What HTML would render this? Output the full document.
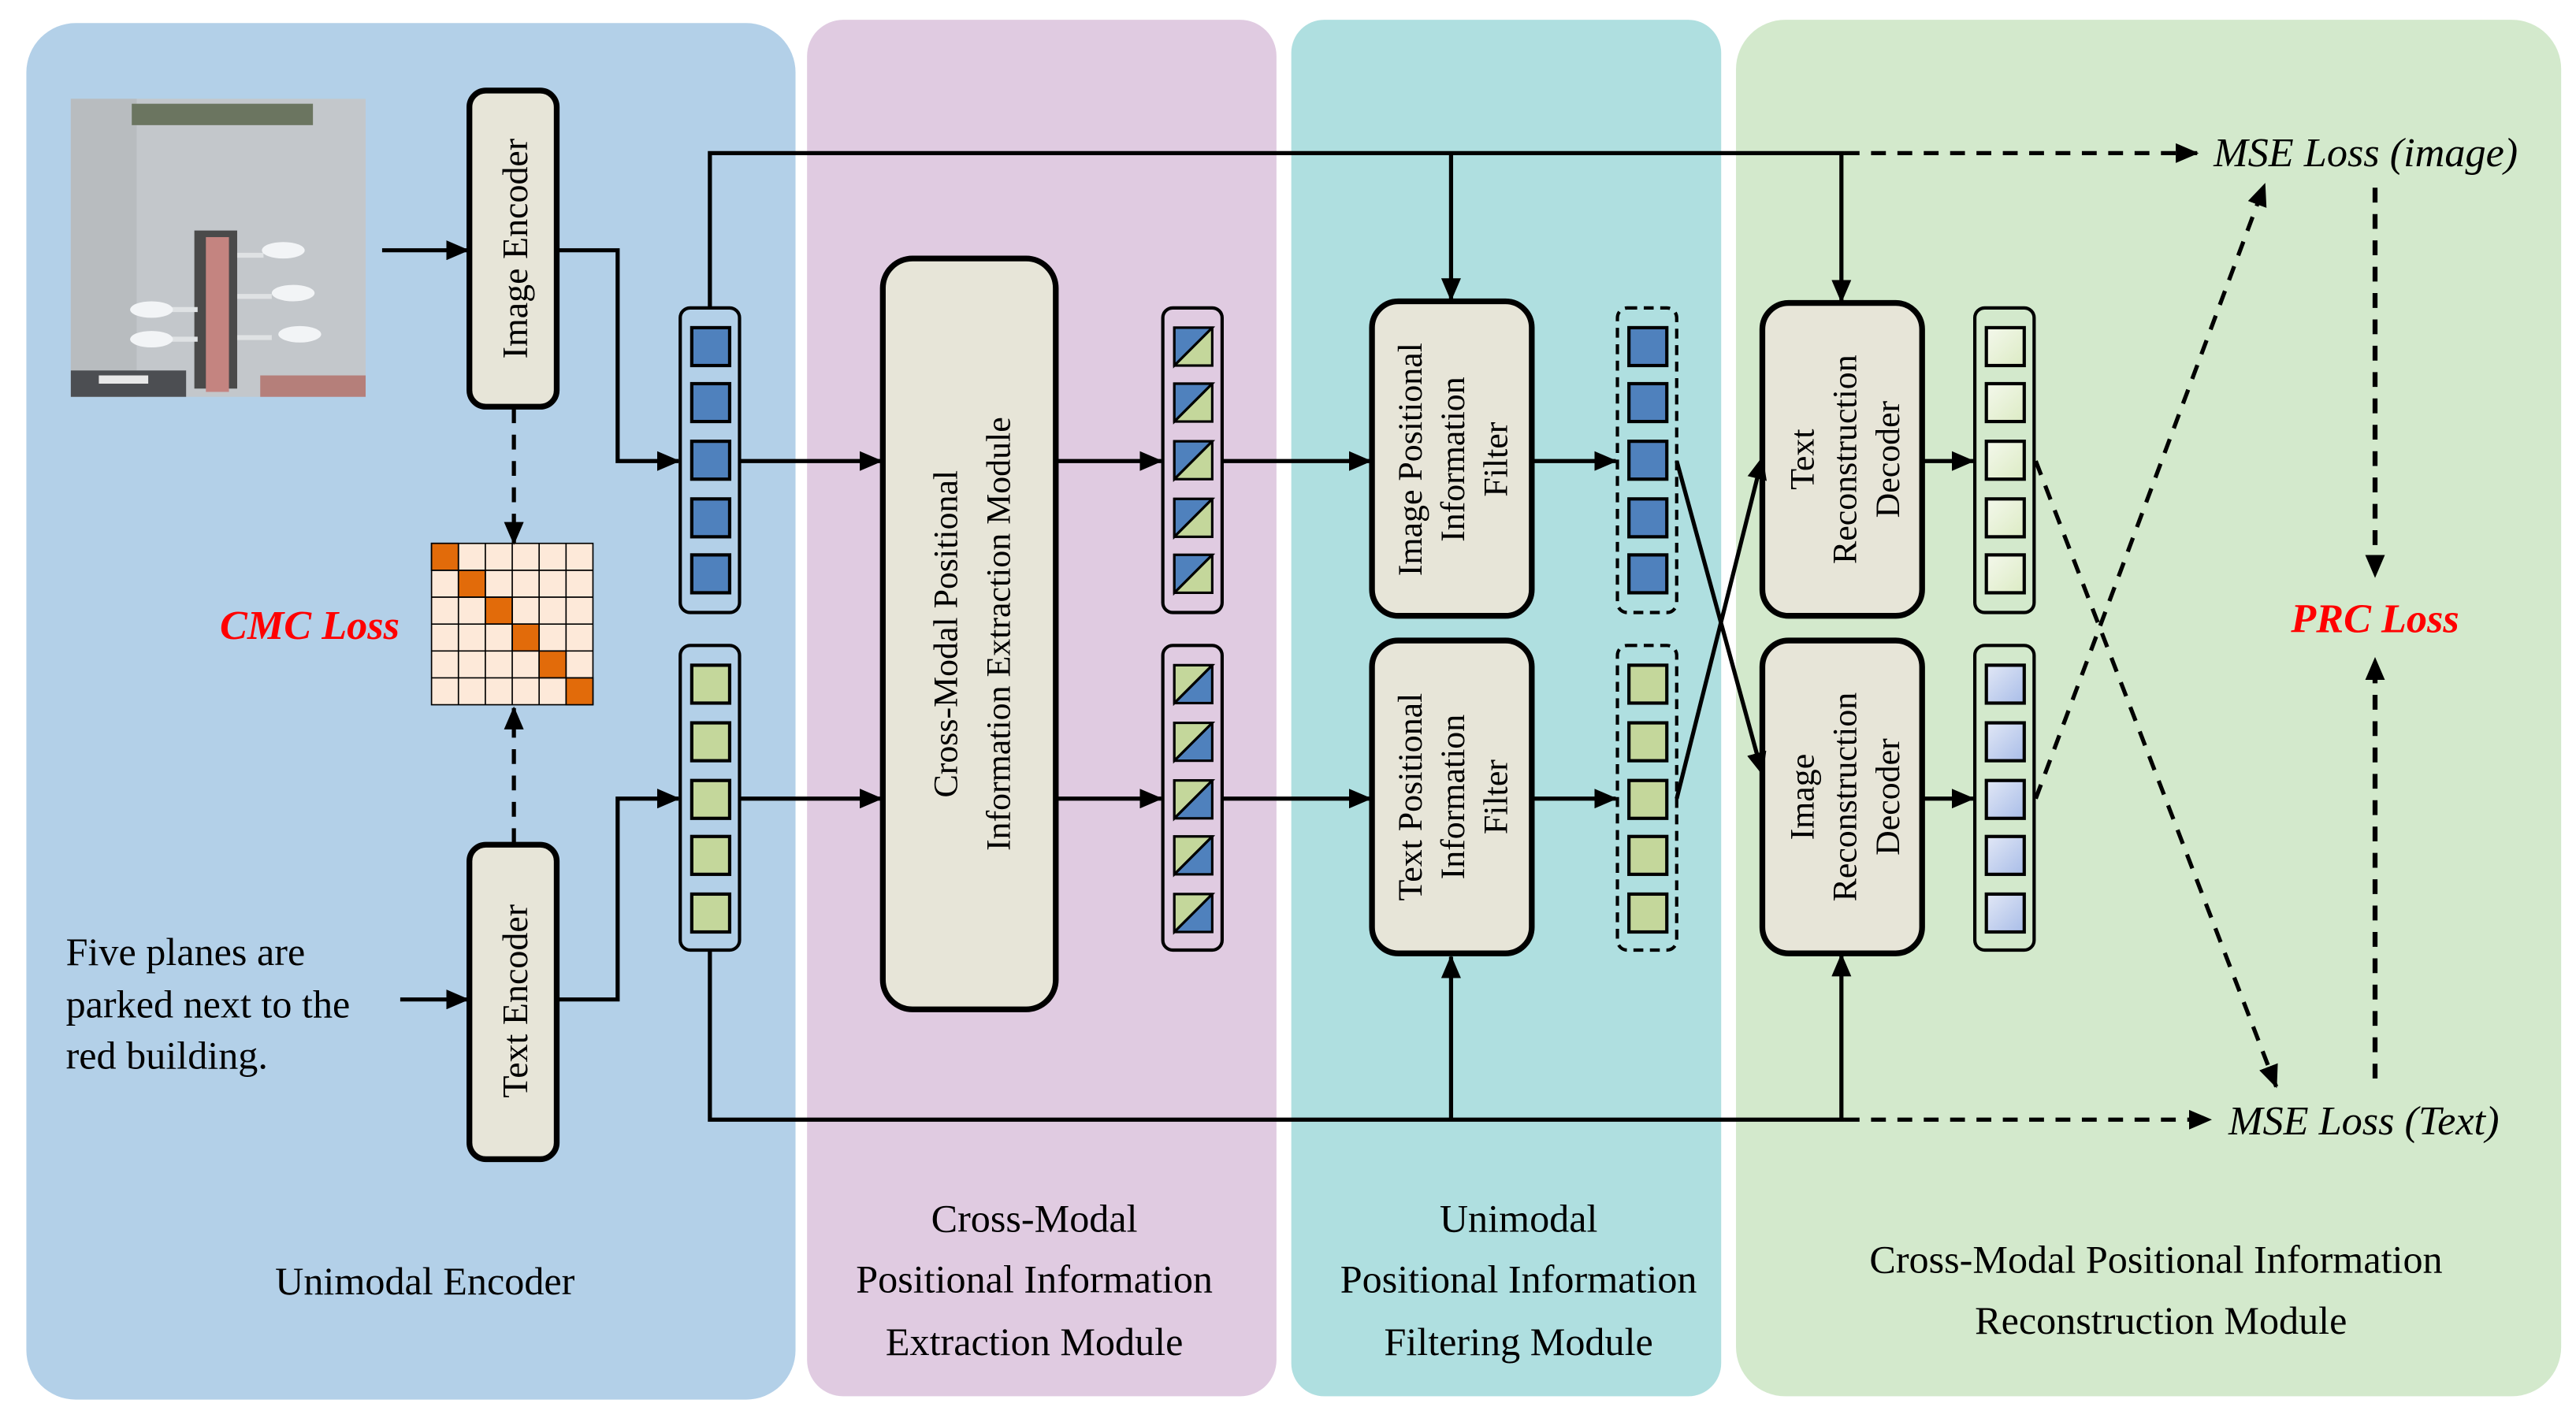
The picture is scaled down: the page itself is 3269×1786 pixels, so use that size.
<!DOCTYPE html>
<html><head><meta charset="utf-8"><style>html,body{margin:0;padding:0;background:#fff}svg{display:block}text{font-family:"Liberation Serif","Times New Roman",serif}</style></head><body>
<svg width="3269" height="1786" viewBox="0 0 1564 854.5" preserveAspectRatio="none" xmlns="http://www.w3.org/2000/svg">
<defs>
<marker id="a" markerUnits="userSpaceOnUse" markerWidth="14" markerHeight="12" refX="13" refY="6" orient="auto"><path d="M0,0 L14,6 L0,12 Z" fill="#000"/></marker>
<linearGradient id="gy" x1="0" y1="0" x2="1" y2="1"><stop offset="0" stop-color="#f4f8ec"/><stop offset="1" stop-color="#dcebc4"/></linearGradient>
<linearGradient id="gb" x1="0" y1="0" x2="1" y2="1"><stop offset="0" stop-color="#e2e8f6"/><stop offset="1" stop-color="#a9bde8"/></linearGradient>
</defs>
<!-- panels -->
<rect x="16" y="14" width="467" height="836" rx="30" fill="#b3d0e8"/>
<rect x="490" y="12" width="285" height="836" rx="22" fill="#e0cbe1"/>
<rect x="784" y="12" width="261" height="836" rx="20" fill="#afdfe0"/>
<rect x="1054" y="12" width="501" height="836" rx="30" fill="#d3e9cc"/>

<!-- photo -->
<rect x="43" y="60" width="179" height="181" fill="#c3c7cb"/>
<rect x="43" y="60" width="40" height="181" fill="#b8bcbf"/>
<rect x="80" y="63" width="110" height="13" fill="#6b7560"/>
<rect x="43" y="225" width="70" height="16" fill="#4c4e52"/>
<rect x="60" y="228" width="30" height="5" fill="#e8e8e8"/>
<rect x="158" y="228" width="64" height="13" fill="#b57f7a"/>
<rect x="118" y="140" width="26" height="96" fill="#4a4a4a"/>
<rect x="125" y="144" width="14" height="94" fill="#c48480"/>
<g stroke="#dfe2e4" stroke-width="3"><path d="M100,188H120M100,206H120M144,155H160M144,180H165M144,205H165"/></g>
<g fill="#f2f4f6"><ellipse cx="92" cy="188" rx="13" ry="5"/><ellipse cx="92" cy="206" rx="13" ry="5"/><ellipse cx="172" cy="152" rx="13" ry="5"/><ellipse cx="178" cy="178" rx="13" ry="5"/><ellipse cx="182" cy="203" rx="13" ry="5"/></g>

<!-- encoders -->
<g fill="#e7e5d8" stroke="#000" stroke-width="3.5">
<rect x="285" y="55" width="53" height="192" rx="10"/>
<rect x="285" y="513" width="53" height="191" rx="10"/>
<rect x="536" y="157" width="105" height="456" rx="18"/>
<rect x="833" y="183" width="97" height="191" rx="16"/>
<rect x="833" y="389" width="97" height="190" rx="16"/>
<rect x="1070" y="184" width="97" height="190" rx="16"/>
<rect x="1070" y="389" width="97" height="190" rx="16"/>
</g>
<g font-size="22" text-anchor="middle">
<text transform="translate(320,151) rotate(-90)">Image Encoder</text>
<text transform="translate(320,608) rotate(-90)">Text Encoder</text>
<text transform="translate(581,385) rotate(-90)" font-size="21">Cross-Modal Positional</text>
<text transform="translate(613,385) rotate(-90)" font-size="21">Information Extraction Module</text>
<text transform="translate(863,279) rotate(-90)" font-size="21">Image Positional</text>
<text transform="translate(889,279) rotate(-90)" font-size="21">Information</text>
<text transform="translate(915,279) rotate(-90)" font-size="21">Filter</text>
<text transform="translate(863,484) rotate(-90)" font-size="21">Text Positional</text>
<text transform="translate(889,484) rotate(-90)" font-size="21">Information</text>
<text transform="translate(915,484) rotate(-90)" font-size="21">Filter</text>
<text transform="translate(1101,279) rotate(-90)" font-size="21">Text</text>
<text transform="translate(1127,279) rotate(-90)" font-size="21">Reconstruction</text>
<text transform="translate(1153,279) rotate(-90)" font-size="21">Decoder</text>
<text transform="translate(1101,484) rotate(-90)" font-size="21">Image</text>
<text transform="translate(1127,484) rotate(-90)" font-size="21">Reconstruction</text>
<text transform="translate(1153,484) rotate(-90)" font-size="21">Decoder</text>
</g>

<!-- matrix -->
<g stroke="#000" stroke-width="0.8">
<rect x="262" y="330" width="98" height="98" fill="#fde9d9"/>
<g fill="#e26b0a">
<rect x="262" y="330" width="16.33" height="16.33"/><rect x="278.33" y="346.33" width="16.33" height="16.33"/><rect x="294.67" y="362.67" width="16.33" height="16.33"/><rect x="311" y="379" width="16.33" height="16.33"/><rect x="327.33" y="395.33" width="16.33" height="16.33"/><rect x="343.67" y="411.67" width="16.33" height="16.33"/>
</g>
<path d="M278.33,330V428M294.67,330V428M311,330V428M327.33,330V428M343.67,330V428M262,346.33H360M262,362.67H360M262,379H360M262,395.33H360M262,411.67H360" fill="none"/>
</g>
<text x="188" y="388" text-anchor="middle" font-size="25" font-style="italic" font-weight="bold" fill="#ff0000">CMC Loss</text>

<!-- caption text -->
<g font-size="24">
<text x="40" y="586">Five planes are</text>
<text x="40" y="618">parked next to the</text>
<text x="40" y="649">red building.</text>
</g>

<!-- token columns -->
<g fill="none" stroke="#000" stroke-width="2">
<rect x="413" y="187" width="36" height="185" rx="6"/>
<rect x="413" y="392" width="36" height="185" rx="6"/>
<rect x="706" y="187" width="36" height="185" rx="6"/>
<rect x="706" y="392" width="36" height="185" rx="6"/>
<rect x="1199" y="187" width="36" height="185" rx="6"/>
<rect x="1199" y="392" width="36" height="185" rx="6"/>
<rect x="982" y="187" width="36" height="185" rx="6" stroke-dasharray="6,4"/>
<rect x="982" y="392" width="36" height="185" rx="6" stroke-dasharray="6,4"/>
</g>
<g stroke="#000" stroke-width="2">
<g fill="#4f81bd">
<rect x="420" y="199" width="23" height="23"/><rect x="420" y="233" width="23" height="23"/><rect x="420" y="268" width="23" height="23"/><rect x="420" y="303" width="23" height="23"/><rect x="420" y="337" width="23" height="23"/>
<rect x="989" y="199" width="23" height="23"/><rect x="989" y="233" width="23" height="23"/><rect x="989" y="268" width="23" height="23"/><rect x="989" y="303" width="23" height="23"/><rect x="989" y="337" width="23" height="23"/>
</g>
<g fill="#c4d79b">
<rect x="420" y="404" width="23" height="23"/><rect x="420" y="439" width="23" height="23"/><rect x="420" y="474" width="23" height="23"/><rect x="420" y="508" width="23" height="23"/><rect x="420" y="543" width="23" height="23"/>
<rect x="989" y="404" width="23" height="23"/><rect x="989" y="439" width="23" height="23"/><rect x="989" y="474" width="23" height="23"/><rect x="989" y="508" width="23" height="23"/><rect x="989" y="543" width="23" height="23"/>
</g>
<g fill="url(#gy)">
<rect x="1206" y="199" width="23" height="23"/><rect x="1206" y="233" width="23" height="23"/><rect x="1206" y="268" width="23" height="23"/><rect x="1206" y="303" width="23" height="23"/><rect x="1206" y="337" width="23" height="23"/>
</g>
<g fill="url(#gb)">
<rect x="1206" y="404" width="23" height="23"/><rect x="1206" y="439" width="23" height="23"/><rect x="1206" y="474" width="23" height="23"/><rect x="1206" y="508" width="23" height="23"/><rect x="1206" y="543" width="23" height="23"/>
</g>
</g>
<!-- mixed squares -->
<g stroke="#000" stroke-width="1.5">
<g transform="translate(713,199)"><rect width="23" height="23" fill="#c4d79b"/><path d="M0,0H23L0,23Z" fill="#4f81bd"/><path d="M0,23L23,0"/></g>
<g transform="translate(713,233)"><rect width="23" height="23" fill="#c4d79b"/><path d="M0,0H23L0,23Z" fill="#4f81bd"/><path d="M0,23L23,0"/></g>
<g transform="translate(713,268)"><rect width="23" height="23" fill="#c4d79b"/><path d="M0,0H23L0,23Z" fill="#4f81bd"/><path d="M0,23L23,0"/></g>
<g transform="translate(713,303)"><rect width="23" height="23" fill="#c4d79b"/><path d="M0,0H23L0,23Z" fill="#4f81bd"/><path d="M0,23L23,0"/></g>
<g transform="translate(713,337)"><rect width="23" height="23" fill="#c4d79b"/><path d="M0,0H23L0,23Z" fill="#4f81bd"/><path d="M0,23L23,0"/></g>
<g transform="translate(713,404)"><rect width="23" height="23" fill="#4f81bd"/><path d="M0,0H23L0,23Z" fill="#c4d79b"/><path d="M0,23L23,0"/></g>
<g transform="translate(713,439)"><rect width="23" height="23" fill="#4f81bd"/><path d="M0,0H23L0,23Z" fill="#c4d79b"/><path d="M0,23L23,0"/></g>
<g transform="translate(713,474)"><rect width="23" height="23" fill="#4f81bd"/><path d="M0,0H23L0,23Z" fill="#c4d79b"/><path d="M0,23L23,0"/></g>
<g transform="translate(713,508)"><rect width="23" height="23" fill="#4f81bd"/><path d="M0,0H23L0,23Z" fill="#c4d79b"/><path d="M0,23L23,0"/></g>
<g transform="translate(713,543)"><rect width="23" height="23" fill="#4f81bd"/><path d="M0,0H23L0,23Z" fill="#c4d79b"/><path d="M0,23L23,0"/></g>
</g>

<!-- solid connectors -->
<g fill="none" stroke="#000" stroke-width="2.5">
<path d="M232,152H284" marker-end="url(#a)"/>
<path d="M243,607H284" marker-end="url(#a)"/>
<path d="M338,152H375V280H412" marker-end="url(#a)"/>
<path d="M338,607H375V485H412" marker-end="url(#a)"/>
<path d="M449,280H535" marker-end="url(#a)"/>
<path d="M449,485H535" marker-end="url(#a)"/>
<path d="M641,280H705" marker-end="url(#a)"/>
<path d="M641,485H705" marker-end="url(#a)"/>
<path d="M742,280H832" marker-end="url(#a)"/>
<path d="M742,485H832" marker-end="url(#a)"/>
<path d="M930,280H981" marker-end="url(#a)"/>
<path d="M930,485H981" marker-end="url(#a)"/>
<path d="M1167,280H1198" marker-end="url(#a)"/>
<path d="M1167,485H1198" marker-end="url(#a)"/>
<path d="M431,187V93H1120"/>
<path d="M881,93V182" marker-end="url(#a)"/>
<path d="M1118,93V183" marker-end="url(#a)"/>
<path d="M431,577V680H1120"/>
<path d="M881,680V581" marker-end="url(#a)"/>
<path d="M1118,680V580" marker-end="url(#a)"/>
<path d="M1018,280L1070,470" marker-end="url(#a)"/>
<path d="M1018,485L1070,278" marker-end="url(#a)"/>
</g>
<!-- dashed connectors -->
<g fill="none" stroke="#000" stroke-width="2.5" stroke-dasharray="9,7">
<path d="M1120,93H1334" marker-end="url(#a)"/>
<path d="M1120,680H1342" marker-end="url(#a)"/>
<path d="M312,248V330" marker-end="url(#a)"/>
<path d="M312,512V430" marker-end="url(#a)"/>
<path d="M1236,280L1382,660" marker-end="url(#a)"/>
<path d="M1236,485L1375,112" marker-end="url(#a)"/>
<path d="M1442,114V350" marker-end="url(#a)" stroke-width="3"/>
<path d="M1442,655V400" marker-end="url(#a)" stroke-width="3"/>
</g>

<g font-size="25" font-style="italic">
<text x="1344" y="101">MSE Loss (image)</text>
<text x="1353" y="689">MSE Loss (Text)</text>
</g>
<text x="1442" y="384" text-anchor="middle" font-size="25" font-style="italic" font-weight="bold" fill="#ff0000">PRC Loss</text>

<!-- bottom labels -->
<g font-size="24" text-anchor="middle">
<text x="258" y="786">Unimodal Encoder</text>
<text x="628" y="748">Cross-Modal</text>
<text x="628" y="785">Positional Information</text>
<text x="628" y="823">Extraction Module</text>
<text x="922" y="748">Unimodal</text>
<text x="922" y="785">Positional Information</text>
<text x="922" y="823">Filtering Module</text>
<text x="1309" y="773">Cross-Modal Positional Information</text>
<text x="1312" y="810">Reconstruction Module</text>
</g>
</svg>
</body></html>
